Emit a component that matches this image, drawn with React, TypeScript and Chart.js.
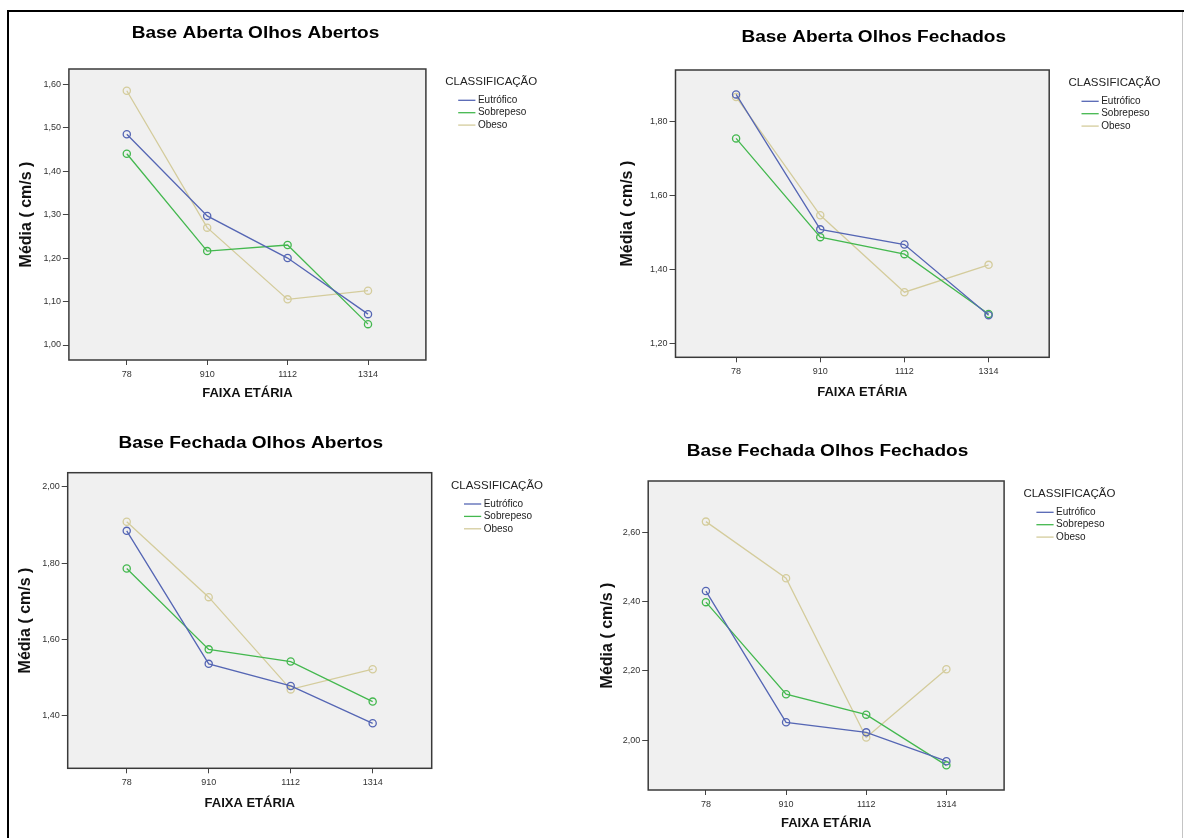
import React, { useEffect, useRef } from 'react';
import { Chart, registerables } from 'chart.js';

Chart.register(...registerables);

// ---------- data ----------
const CATEGORIES = ['78', '910', '1112', '1314'];
const SERIES_LABELS = ['Eutrófico', 'Sobrepeso', 'Obeso'];
const LEGEND_TITLE = 'CLASSIFICAÇÃO';
const X_TITLE = 'FAIXA ETÁRIA';
const Y_TITLE = 'Média ( cm/s )';
const PANEL_TITLES = [
  'Base Aberta Olhos Abertos',
  'Base Aberta Olhos Fechados',
  'Base Fechada Olhos Abertos',
  'Base Fechada Olhos Fechados',
];

// Base Aberta Olhos Abertos
const BAOA_EUTROFICO = [1.485, 1.297, 1.2, 1.071];
const BAOA_SOBREPESO = [1.44, 1.216, 1.23, 1.048];
const BAOA_OBESO = [1.585, 1.27, 1.105, 1.125];
const BAOA_TICKS = [1.0, 1.1, 1.2, 1.3, 1.4, 1.5, 1.6];
const BAOA_RANGE = [0.9655, 1.635];

// Base Aberta Olhos Fechados
const BAOF_EUTROFICO = [1.873, 1.508, 1.467, 1.276];
const BAOF_SOBREPESO = [1.754, 1.487, 1.441, 1.279];
const BAOF_OBESO = [1.866, 1.546, 1.338, 1.412];
const BAOF_TICKS = [1.2, 1.4, 1.6, 1.8];
const BAOF_RANGE = [1.162, 1.939];

// Base Fechada Olhos Abertos
const BFOA_EUTROFICO = [1.885, 1.536, 1.478, 1.38];
const BFOA_SOBREPESO = [1.786, 1.574, 1.542, 1.437];
const BFOA_OBESO = [1.909, 1.711, 1.469, 1.522];
const BFOA_TICKS = [1.4, 1.6, 1.8, 2.0];
const BFOA_RANGE = [1.262, 2.0375];

// Base Fechada Olhos Fechados
const BFOF_EUTROFICO = [2.43, 2.052, 2.023, 1.94];
const BFOF_SOBREPESO = [2.398, 2.133, 2.074, 1.928];
const BFOF_OBESO = [2.63, 2.467, 2.008, 2.205];
const BFOF_TICKS = [2.0, 2.2, 2.4, 2.6];
const BFOF_RANGE = [1.857, 2.747];

const PANELS = [
  { series: [BAOA_EUTROFICO, BAOA_SOBREPESO, BAOA_OBESO], ticks: BAOA_TICKS, range: BAOA_RANGE },
  { series: [BAOF_EUTROFICO, BAOF_SOBREPESO, BAOF_OBESO], ticks: BAOF_TICKS, range: BAOF_RANGE },
  { series: [BFOA_EUTROFICO, BFOA_SOBREPESO, BFOA_OBESO], ticks: BFOA_TICKS, range: BFOA_RANGE },
  { series: [BFOF_EUTROFICO, BFOF_SOBREPESO, BFOF_OBESO], ticks: BFOF_TICKS, range: BFOF_RANGE },
];

// ---------- styles & layout ----------
const COLORS = ['#5566b4', '#44b84f', '#d4cc9c'];
const FONT = "'Liberation Sans', Arial, sans-serif";
const X_PAD = 0.72;
const Y_TITLE_SIZE = 16;
const X_TITLE_SIZE = 13;

// page coordinates: canvas [x, y, w, h], plot box [L, T, R, B]
const LAYOUT = [
  { canvas: [10, 12, 580, 408], box: [68.9, 69, 425.9, 360], title: [255.5, 34], yTitleX: 27, xTitleY: 393 },
  { canvas: [590, 12, 590, 408], box: [675.5, 70, 1049.2, 357.3], title: [873.7, 37.3], yTitleX: 628, xTitleY: 392.7 },
  { canvas: [10, 420, 580, 418], box: [67.7, 472.7, 431.7, 768.3], title: [250.7, 444], yTitleX: 26, xTitleY: 803.3 },
  { canvas: [590, 420, 590, 418], box: [648.2, 481, 1004.1, 790], title: [827.5, 451.7], yTitleX: 607.7, xTitleY: 823.3 },
];

const panelDecor = {
  id: 'panelDecor',
  beforeDatasetsDraw(chart: any) {
    const { ctx, chartArea: a } = chart;
    ctx.save();
    ctx.fillStyle = '#f0f0f0';
    ctx.fillRect(a.left, a.top, a.right - a.left, a.bottom - a.top);
    ctx.restore();
  },
  afterDraw(chart: any) {
    const { ctx, chartArea: a } = chart;
    const o = chart.options.plugins.panelDecor;
    ctx.save();
    // frame
    ctx.strokeStyle = '#3a3a3a';
    ctx.lineWidth = 1.5;
    ctx.strokeRect(a.left, a.top, a.right - a.left, a.bottom - a.top);
    // title (slightly wide bold face)
    ctx.fillStyle = '#000';
    ctx.font = `bold 16.3px ${FONT}`;
    ctx.textAlign = 'center';
    ctx.textBaseline = 'middle';
    ctx.translate(o.titleX, o.titleY);
    ctx.scale(1.17, 1);
    ctx.fillText(o.title, 0, 0);
    ctx.restore();

    // legend
    ctx.save();
    ctx.fillStyle = '#222';
    ctx.textBaseline = 'middle';
    ctx.textAlign = 'left';
    ctx.font = `11.5px ${FONT}`;
    ctx.fillText(LEGEND_TITLE, a.right + 19.3, a.top + 12.7);
    ctx.font = `10px ${FONT}`;
    chart.data.datasets.forEach((ds: any, i: number) => {
      const y = a.top + 31.3 + 12.4 * i;
      ctx.strokeStyle = ds.borderColor;
      ctx.lineWidth = 1.3;
      ctx.beginPath();
      ctx.moveTo(a.right + 32.3, y);
      ctx.lineTo(a.right + 49.5, y);
      ctx.stroke();
      ctx.fillText(ds.label, a.right + 52, y);
    });
    ctx.restore();
  },
};

function Panel({ idx }: { idx: number }) {
  const ref = useRef<HTMLCanvasElement>(null);
  const g = LAYOUT[idx];
  const [cx, cy, cw, ch] = g.canvas;

  useEffect(() => {
    const p = PANELS[idx];
    const [L, T, R, B] = g.box;
    const yLh = Y_TITLE_SIZE * 1.2;
    const xLh = X_TITLE_SIZE * 1.2;
    const wy = L - cx;
    const hx = g.xTitleY + xLh / 2 - B;

    const chart = new Chart(ref.current as HTMLCanvasElement, {
      type: 'line',
      data: {
        datasets: SERIES_LABELS.map((label, s) => ({
          label,
          data: p.series[s].map((y, i) => ({ x: i, y })),
          borderColor: COLORS[s],
          borderWidth: 1.3,
          pointRadius: 3.6,
          pointBorderWidth: 1.3,
          pointBorderColor: COLORS[s],
          pointBackgroundColor: 'rgba(0,0,0,0)',
          tension: 0,
          fill: false,
        })),
      },
      options: {
        animation: false,
        responsive: false,
        devicePixelRatio: 1,
        events: [],
        layout: { padding: { left: 0, top: T - cy, right: cx + cw - R, bottom: cy + ch - B - hx } },
        plugins: {
          legend: { display: false },
          title: { display: false },
          tooltip: { enabled: false },
          panelDecor: {
            title: PANEL_TITLES[idx],
            titleX: g.title[0] - cx,
            titleY: g.title[1] - cy,
          },
        } as any,
        scales: {
          x: {
            type: 'linear',
            min: -X_PAD,
            max: CATEGORIES.length - 1 + X_PAD,
            afterBuildTicks: (s: any) => {
              s.ticks = CATEGORIES.map((_, i) => ({ value: i }));
            },
            afterFit: (s: any) => {
              s.height = hx;
            },
            ticks: {
              callback: (v: any) => CATEGORIES[v],
              font: { family: FONT, size: 9 },
              color: '#333',
              padding: 4,
              maxRotation: 0,
            },
            grid: { drawOnChartArea: false, drawTicks: true, tickLength: 5, color: '#444', lineWidth: 1 },
            border: { display: false },
            title: {
              display: true,
              text: X_TITLE,
              font: { family: FONT, size: X_TITLE_SIZE, weight: 'bold' },
              color: '#111',
              padding: 0,
            },
          },
          y: {
            type: 'linear',
            min: p.range[0],
            max: p.range[1],
            afterBuildTicks: (s: any) => {
              s.ticks = p.ticks.map((v) => ({ value: v }));
            },
            afterFit: (s: any) => {
              s.width = wy;
            },
            ticks: {
              callback: (v: any) => Number(v).toFixed(2).replace('.', ','),
              font: { family: FONT, size: 9 },
              color: '#333',
              padding: 2,
            },
            grid: { drawOnChartArea: false, drawTicks: true, tickLength: 6, color: '#444', lineWidth: 1 },
            border: { display: false },
            title: {
              display: true,
              text: Y_TITLE,
              font: { family: FONT, size: Y_TITLE_SIZE, weight: 'bold' },
              color: '#111',
              padding: { top: g.yTitleX - cx - yLh / 2, bottom: 0 },
            },
          },
        },
      } as any,
      plugins: [panelDecor],
    });
    return () => chart.destroy();
  }, [idx]);

  return (
    <canvas
      ref={ref}
      width={cw}
      height={ch}
      style={{ position: 'absolute', left: cx, top: cy, width: cw, height: ch }}
    />
  );
}

export default function App() {
  return (
    <div style={{ position: 'absolute', left: 0, top: 0, width: 1184, height: 838, background: '#fff', overflow: 'hidden' }}>
      {LAYOUT.map((_, i) => (
        <Panel key={i} idx={i} />
      ))}
      <div style={{ position: 'absolute', left: 7, top: 10, width: 1177, height: 2, background: '#000' }} />
      <div style={{ position: 'absolute', left: 7, top: 10, width: 2, height: 828, background: '#000' }} />
      <div style={{ position: 'absolute', left: 1182, top: 12, width: 1, height: 826, background: '#c4c4c4' }} />
    </div>
  );
}
